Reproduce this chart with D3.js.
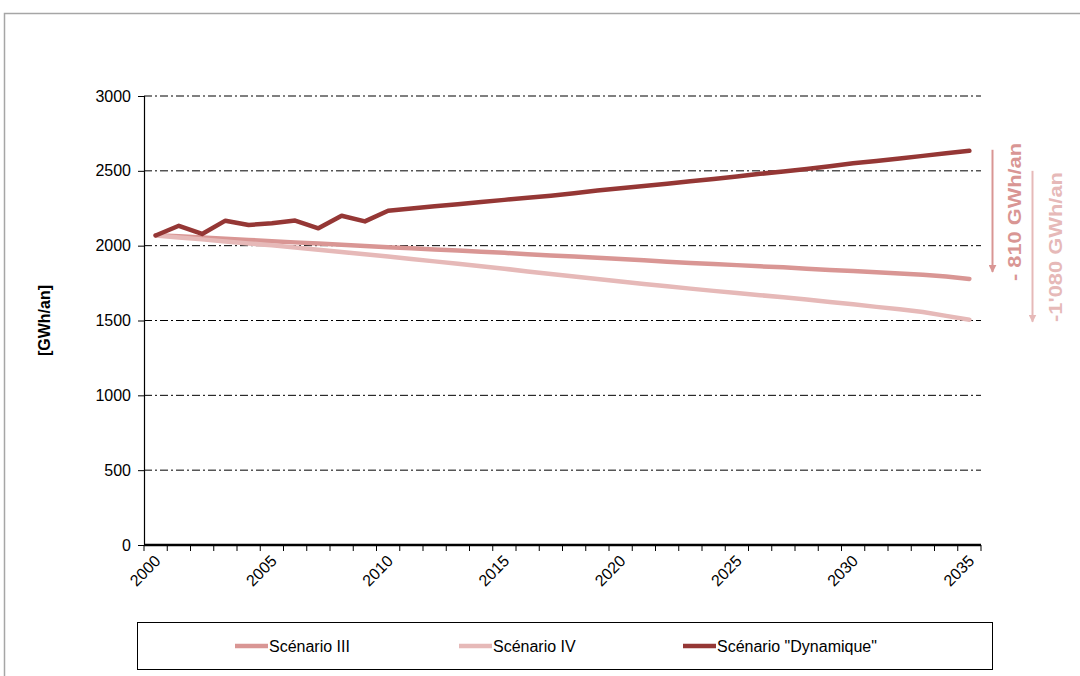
<!DOCTYPE html>
<html><head><meta charset="utf-8">
<script src="https://cdn.jsdelivr.net/npm/d3@7"></script>
<style>body{margin:0;background:#fff}svg{display:block;font-family:"Liberation Sans",Arial,sans-serif}</style>
</head><body><svg id="c" width="1080" height="676"></svg>
<script>
const years = d3.range(2000, 2036);
const tickLabels = ["2000","2005","2010","2015","2020","2025","2030","2035"];
const yTicks = [0,500,1000,1500,2000,2500,3000];
const scenarioIII = [2070,2063,2055,2047,2038,2030,2022,2014,2006,1998,1990,1982,1974,1967,1960,1952,1943,1935,1927,1919,1911,1902,1892,1884,1877,1870,1862,1855,1846,1838,1830,1822,1814,1806,1794,1778];
const scenarioIV = [2068,2055,2042,2028,2015,2002,1988,1972,1957,1942,1927,1911,1895,1879,1862,1846,1828,1811,1794,1777,1760,1744,1729,1713,1698,1684,1669,1655,1640,1624,1608,1591,1575,1557,1531,1505];
const dynamique = [2068,2133,2078,2167,2138,2150,2168,2116,2200,2162,2233,2248,2263,2277,2292,2306,2320,2334,2350,2368,2384,2398,2413,2430,2446,2462,2480,2496,2512,2530,2550,2566,2582,2600,2617,2634];
const seriesNames = ["Scénario III","Scénario IV","Scénario \"Dynamique\""];
const seriesColors = ["#d99694","#e6b9b8","#953735"];
const annotations = ["- 810 GWh/an","-1'080 GWh/an"];

const svg = d3.select("#c");
svg.append("path").attr("d","M4.5,676 V13.5 H1080").attr("fill","none").attr("stroke","#a6a6a6").attr("stroke-width",1.5);

const L=144, R=981, T=96, B=545;
const x = d3.scaleBand().domain(years).range([L,R]);
const y = d3.scaleLinear().domain([0,3000]).range([B,T]);

svg.append("g").selectAll("line").data(yTicks.filter(d=>d>0)).join("line")
  .attr("x1",L).attr("x2",R).attr("y1",d=>y(d)).attr("y2",d=>y(d))
  .attr("stroke","#000").attr("stroke-width",1).attr("stroke-dasharray","8,3,2,3");

const ya = svg.append("g").attr("transform",`translate(${L},0)`)
  .call(d3.axisLeft(y).tickValues(yTicks).tickFormat(d3.format("d")).tickSize(6).tickPadding(7));
ya.select(".domain").attr("stroke","#000").attr("stroke-width",1.2);
ya.selectAll(".tick line").attr("stroke","#000");
ya.selectAll("text").attr("font-size",16).attr("fill","#000").attr("font-family","Liberation Sans, Arial");

svg.append("text").attr("transform",`translate(50,${(T+B)/2}) rotate(-90)`)
  .attr("text-anchor","middle").attr("font-weight","bold").attr("font-size",16).text("[GWh/an]");

const xa = svg.append("g").attr("transform",`translate(0,${B})`);
xa.append("line").attr("x1",L).attr("x2",R).attr("stroke","#000").attr("stroke-width",2.5);
const bounds = years.map(d=>x(d)).concat([R]);
xa.selectAll("line.t").data(bounds).join("line").attr("class","t")
  .attr("x1",d=>d).attr("x2",d=>d).attr("y1",0).attr("y2",6).attr("stroke","#000");
xa.selectAll("text").data(tickLabels).join("text")
  .attr("transform",d=>`translate(${x(+d)+x.bandwidth()/2+6},${17}) rotate(-45)`)
  .attr("text-anchor","end").attr("font-size",16).text(d=>d);

const line = d3.line().x((d,i)=>x(years[i])+x.bandwidth()/2).y(d=>y(d));
[scenarioIII, scenarioIV, dynamique].forEach((s,i)=>{
  svg.append("path").datum(s).attr("d",line).attr("fill","none")
    .attr("stroke",seriesColors[i]).attr("stroke-width",4.5).attr("stroke-linejoin","round").attr("stroke-linecap","round");
});

const defs = svg.append("defs");
[0,1].forEach(i=>{
  defs.append("marker").attr("id","ah"+i).attr("viewBox","0 0 10 10").attr("refX",9).attr("refY",5)
    .attr("markerWidth",4).attr("markerHeight",4).attr("orient","auto")
    .append("path").attr("d","M0,0 L10,5 L0,10 z").attr("fill",seriesColors[i]);
});
const arrowX = [992.5, 1032.5];
const arrowY0 = [y(dynamique[35])-1, y(2500)];
const arrowY1 = [y(scenarioIII[35])-7, y(scenarioIV[35])+2];
[0,1].forEach(i=>{
  svg.append("line").attr("x1",arrowX[i]).attr("x2",arrowX[i]).attr("y1",arrowY0[i]).attr("y2",arrowY1[i])
    .attr("stroke",seriesColors[i]).attr("stroke-width",2).attr("marker-end",`url(#ah${i})`);
});
const textX = [1021, 1062];
const textY = [212, 247];
annotations.forEach((t,i)=>{
  svg.append("text").attr("transform",`translate(${textX[i]},${textY[i]}) rotate(-90)`)
    .attr("text-anchor","middle").attr("font-weight","bold").attr("font-size",19)
    .attr("textLength", i===0?138:150).attr("lengthAdjust","spacingAndGlyphs")
    .attr("fill",seriesColors[i]).text(t);
});

svg.append("rect").attr("x",137.5).attr("y",622.5).attr("width",855).attr("height",47)
  .attr("fill","#fff").attr("stroke","#000").attr("stroke-width",1);
const legX = [235, 459, 683];
seriesNames.forEach((n,i)=>{
  const g = svg.append("g").attr("transform",`translate(${legX[i]},646)`);
  g.append("line").attr("x1",0).attr("x2",33).attr("stroke",seriesColors[i]).attr("stroke-width",4.5);
  g.append("text").attr("x",34).attr("y",6).attr("font-size",16).text(n);
});
</script></body></html>
